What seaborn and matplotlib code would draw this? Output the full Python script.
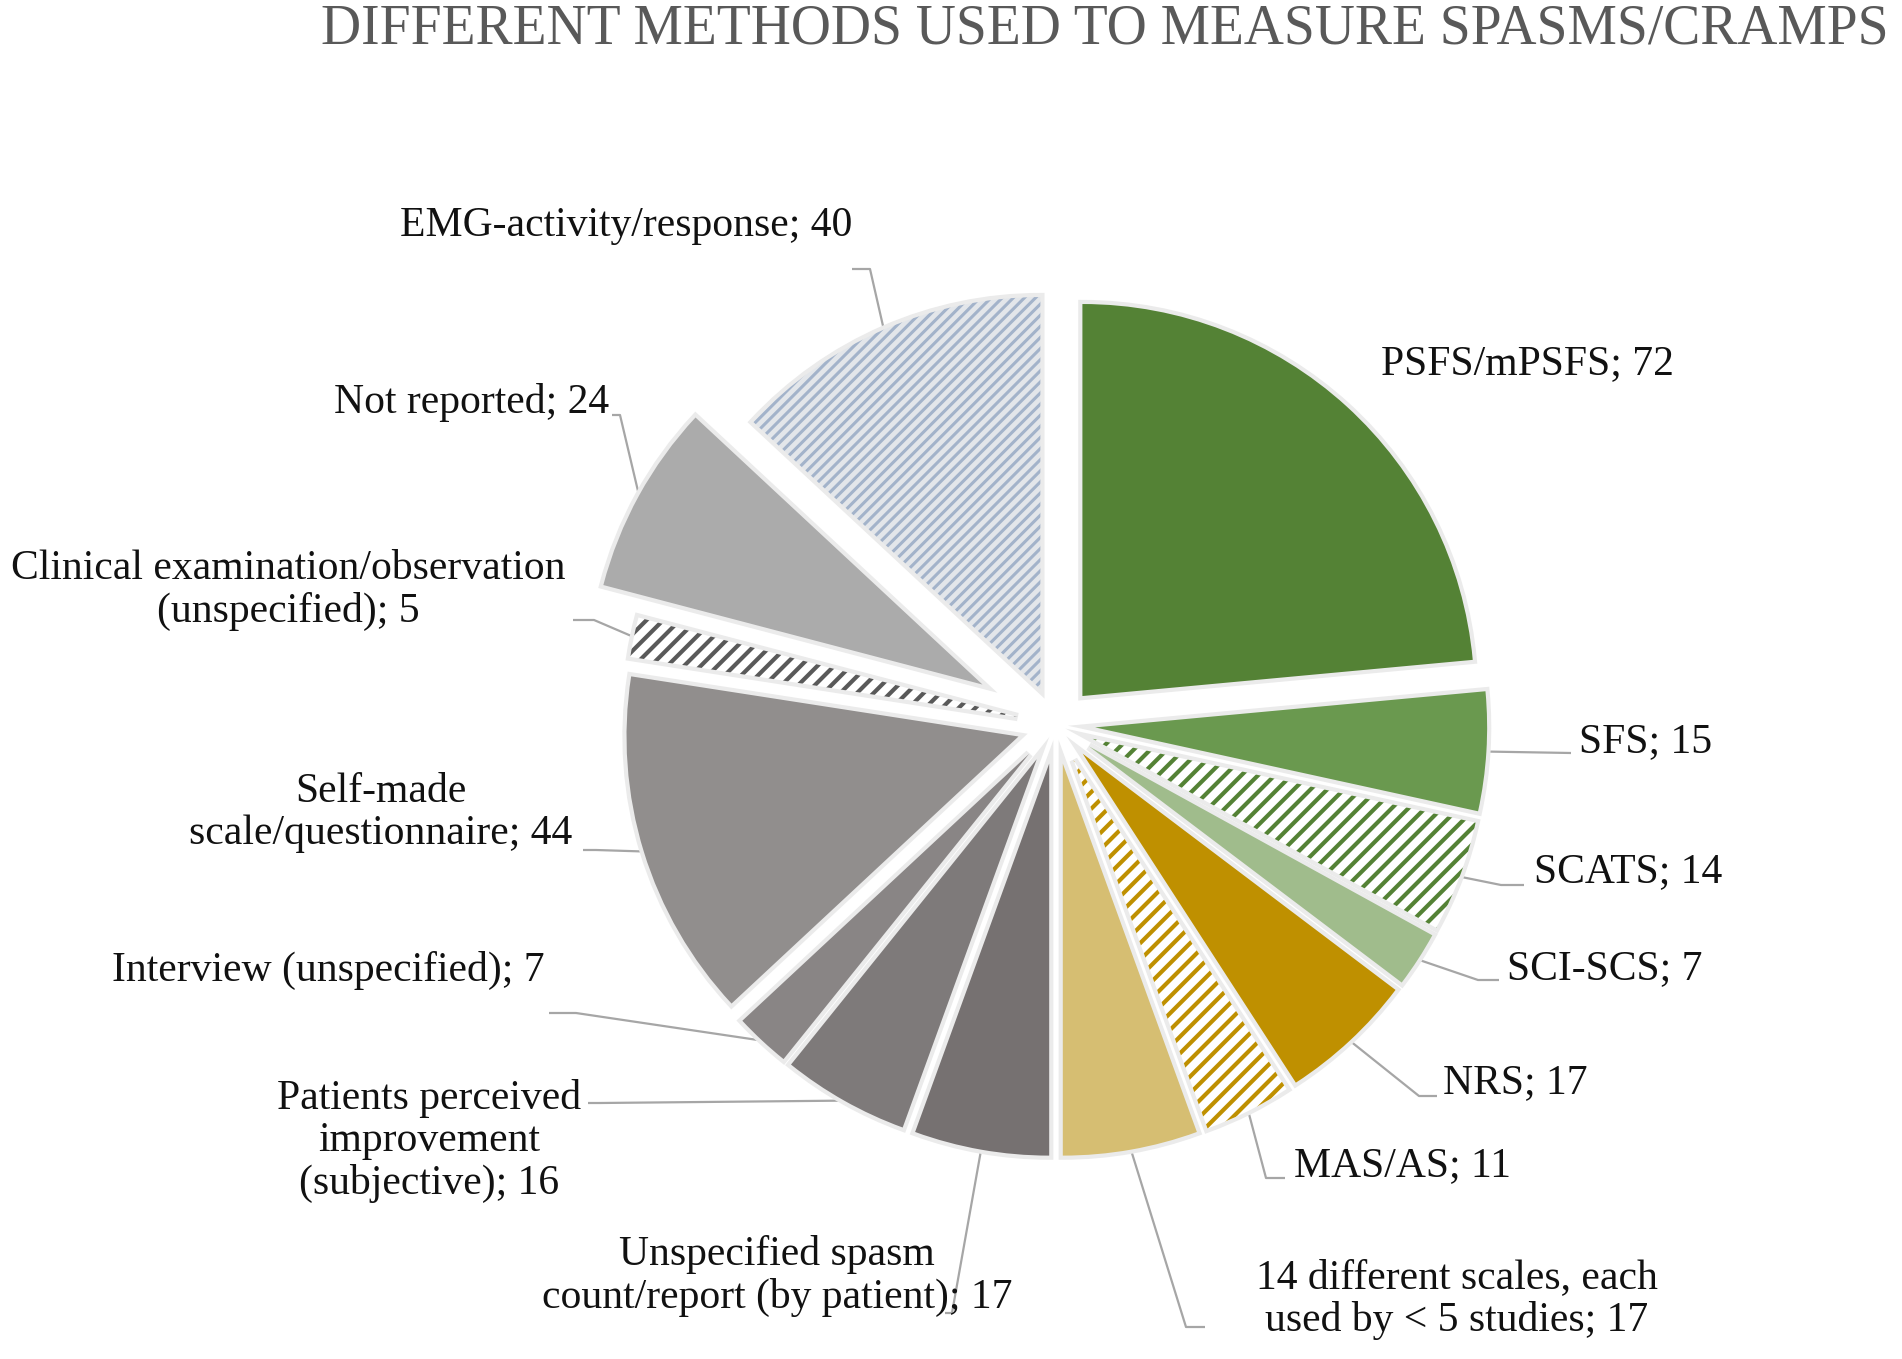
import matplotlib
matplotlib.use("Agg")
import matplotlib.pyplot as plt
import matplotlib.patheffects as pe
import numpy as np
import seaborn as sns

sns.set_theme(style="white")
plt.rcParams['font.family'] = ['Liberation Serif', 'DejaVu Serif']
plt.rcParams['hatch.linewidth'] = 2.8

# data
methods = ["PSFS/mPSFS", "SFS", "SCATS", "SCI-SCS", "NRS", "MAS/AS",
           "14 different scales, each\nused by < 5 studies",
           "Unspecified spasm\ncount/report (by patient)",
           "Patients perceived\nimprovement\n(subjective)",
           "Interview (unspecified)",
           "Self-made\nscale/questionnaire",
           "Clinical examination/observation\n(unspecified)",
           "Not reported",
           "EMG-activity/response"]
counts = [72, 15, 14, 7, 17, 11, 17, 17, 16, 7, 44, 5, 24, 40]
title = "DIFFERENT METHODS USED TO MEASURE SPASMS/CRAMPS"

# styles
face_colors = ['#548235', '#6a994f', 'white', '#a0bc8c', '#bf9000', 'white',
               '#d6be72', '#767171', '#7e7a7a', '#898585', '#918e8d', 'white',
               '#ababab', '#e3e6ea']
hatches = [None, None, '//', None, None, '//', None, None, None, None,
           None, '//', None, '///']
hatch_colors = [None, None, '#548235', None, None, '#bf9000', None, None, None,
                None, None, '#595959', None, '#a3b3ca']
hatch_widths = [None, None, 3.0, None, None, 3.0, None, None, None, None,
                None, 3.0, None, 2.2]
explode = [0.1] * 12 + [0.214, 0.1]

# layout in pixels of the 1902x1359 picture (x from left, y from top)
W, H = 1902, 1359
CX, CY, PX = 1056, 725, 392
label_xy = [(1527, 364), (1579, 742), (1534, 872), (1507, 969), (1443, 1083),
            (1294, 1166), (1457, 1299), (777, 1276), (429, 1141), (112, 970),
            (381, 813), (288, 590), (472, 403), (626, 226)]
label_ha = ['center', 'left', 'left', 'left', 'left', 'left', 'center',
            'center', 'center', 'left', 'center', 'center', 'center', 'center']
leader_elbow = [None, (1571, 753), (1501, 885), (1478, 980), (1419, 1096),
                (1266, 1178), (1186, 1327), (952, 1313), (600, 1103),
                (576, 1013), (596, 850), (594, 620), (620, 415), (870, 269)]
leader_end = [None, (1571, 753), (1524, 885), (1499, 980), (1437, 1096),
              (1285, 1178), (1205, 1327), (945, 1313), (588, 1103),
              (549, 1013), (583, 850), (573, 620), (612, 415), (852, 269)]


def to_data(p):
    return (p[0] - CX) / PX, (CY - p[1]) / PX


fig = plt.figure(figsize=(W / 100, H / 100), dpi=100)
ax = fig.add_axes([0, 0, 1, 1])

wedges, _ = ax.pie(counts, explode=explode, colors=face_colors, startangle=90,
                   counterclock=False, radius=1.0,
                   wedgeprops=dict(linewidth=0))
for w, h, hc, hw in zip(wedges, hatches, hatch_colors, hatch_widths):
    if h:
        w.set_edgecolor(hc)
        w.set_hatch(h)
        w.set_linewidth(0)
        if hasattr(w, 'set_hatch_linewidth'):
            w.set_hatch_linewidth(hw)
    # soft grey rim like the original's shadow
    w.set_path_effects([pe.Stroke(linewidth=6, foreground='#ebebeb'),
                        pe.Normal()])

ax.set_aspect('auto')
ax.set_xlim(-CX / PX, (W - CX) / PX)
ax.set_ylim(-(H - CY) / PX, CY / PX)
ax.axis('off')

for i, w in enumerate(wedges):
    text = f"{methods[i]}; {counts[i]}"
    x, y = to_data(label_xy[i])
    ax.text(x, y, text, ha=label_ha[i], va='center', multialignment='center',
            fontsize=30, color='#111111', linespacing=1.13)
    if leader_elbow[i] is None:
        continue
    mid = np.deg2rad((w.theta1 + w.theta2) / 2)
    cx, cy = w.center
    ax_x, ax_y = cx + w.r * np.cos(mid), cy + w.r * np.sin(mid)
    ex, ey = to_data(leader_elbow[i])
    tx, ty = to_data(leader_end[i])
    ax.plot([ax_x, ex, tx], [ax_y, ey, ty], color='#a6a6a6', lw=1.6,
            solid_capstyle='butt', zorder=0)

fig.text(1105 / W, 1 - 30 / H, title, ha='center', va='center',
         fontsize=40, color='#595959')

fig.savefig('out.png', dpi=100, facecolor='white')
